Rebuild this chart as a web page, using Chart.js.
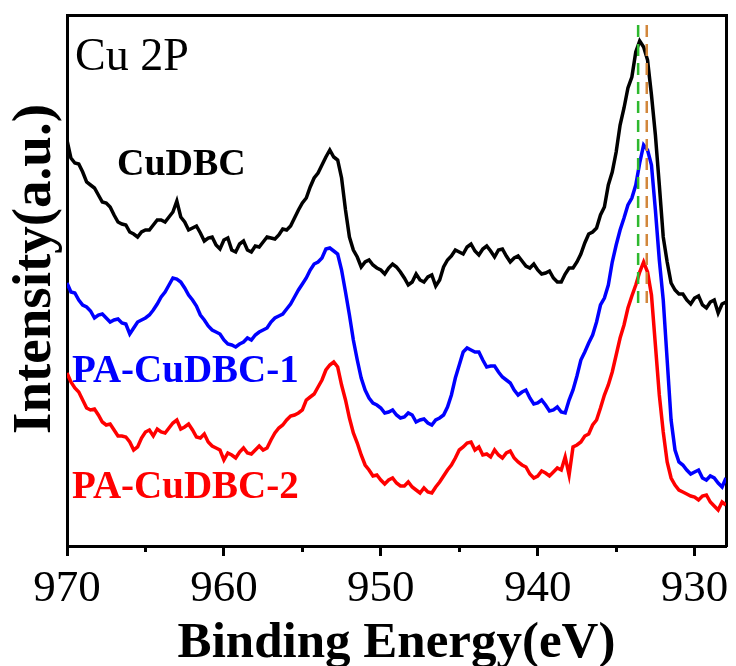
<!DOCTYPE html>
<html>
<head>
<meta charset="utf-8">
<title>Cu 2P XPS</title>
<script src="https://cdn.jsdelivr.net/npm/chart.js@4.4.1/dist/chart.umd.min.js"></script>
<style>
  body { margin: 0; background: #fff; }
  #wrap { width: 736px; height: 666px; }
</style>
</head>
<body>
<div id="wrap"><canvas id="xps" width="736" height="666"></canvas></div>
<script>
// binding energy (eV), 0.25 eV steps
const energies = [
  970, 969.75, 969.5, 969.25, 969, 968.75, 968.5, 968.25,
  968, 967.75, 967.5, 967.25, 967, 966.75, 966.5, 966.25,
  966, 965.75, 965.5, 965.25, 965, 964.75, 964.5, 964.25,
  964, 963.75, 963.5, 963.25, 963, 962.75, 962.5, 962.25,
  962, 961.75, 961.5, 961.25, 961, 960.75, 960.5, 960.25,
  960, 959.75, 959.5, 959.25, 959, 958.75, 958.5, 958.25,
  958, 957.75, 957.5, 957.25, 957, 956.75, 956.5, 956.25,
  956, 955.75, 955.5, 955.25, 955, 954.75, 954.5, 954.25,
  954, 953.75, 953.5, 953.25, 953, 952.75, 952.5, 952.25,
  952, 951.75, 951.5, 951.25, 951, 950.75, 950.5, 950.25,
  950, 949.75, 949.5, 949.25, 949, 948.75, 948.5, 948.25,
  948, 947.75, 947.5, 947.25, 947, 946.75, 946.5, 946.25,
  946, 945.75, 945.5, 945.25, 945, 944.75, 944.5, 944.25,
  944, 943.75, 943.5, 943.25, 943, 942.75, 942.5, 942.25,
  942, 941.75, 941.5, 941.25, 941, 940.75, 940.5, 940.25,
  940, 939.75, 939.5, 939.25, 939, 938.75, 938.5, 938.25,
  938, 937.75, 937.5, 937.25, 937, 936.75, 936.5, 936.25,
  936, 935.75, 935.5, 935.25, 935, 934.75, 934.5, 934.25,
  934, 933.75, 933.5, 933.25, 933, 932.75, 932.5, 932.25,
  932, 931.75, 931.5, 931.25, 931, 930.75, 930.5, 930.25,
  930, 929.75, 929.5, 929.25, 929, 928.75, 928.5, 928.25,
  928
];

// intensities (a.u., curves offset as in the figure)
const cuDBC = [
  410, 392, 387, 386, 378, 368, 365, 362,
  355, 348, 347, 343, 335, 328, 326, 325,
  318, 316, 313, 318, 320, 320, 325, 330,
  330, 328, 333, 338, 349, 333, 328, 320,
  322, 324, 317, 309, 312, 313, 305, 301,
  310, 312, 300, 298, 306, 309, 300, 298,
  304, 303, 308, 313, 312, 311, 315, 321,
  320, 324, 332, 340, 347, 352, 363, 372,
  377, 385, 393, 400, 393, 390, 372, 340,
  313, 300, 293, 283, 288, 290, 285, 282,
  280, 276, 282, 286, 283, 278, 272, 265,
  268, 276, 270, 268, 273, 275, 264, 270,
  283, 290, 294, 300, 298, 296, 303, 306,
  299, 295, 301, 304, 299, 293, 300, 301,
  294, 288, 292, 294, 289, 284, 282, 286,
  280, 276, 277, 279, 272, 268, 268, 276,
  282, 282, 288, 296, 307, 316, 318, 322,
  335, 343, 365, 378, 398, 425, 442, 462,
  473, 498, 509, 503, 490, 455, 415, 365,
  313, 288, 267, 260, 256, 256, 250, 246,
  252, 254, 245, 242, 248, 250, 237, 246,
  248
];

const paCuDBC1 = [
  267, 258, 257, 250, 245, 243, 239, 232,
  235, 236, 232, 228, 230, 231, 227, 226,
  216, 222, 228, 230, 232, 235, 240, 246,
  253, 258, 265, 272, 271, 268, 262, 255,
  250, 244, 235, 230, 224, 220, 218, 216,
  210, 206, 205, 203, 206, 208, 212, 210,
  215, 218, 220, 222, 228, 232, 234, 236,
  241, 246, 253, 260, 266, 272, 280, 286,
  288, 292, 301, 302, 299, 296, 280, 258,
  235, 210, 190, 172, 160, 152, 147, 145,
  142, 137, 138, 140, 135, 132, 133, 137,
  135, 128, 130, 131, 127, 125, 130, 132,
  135, 143, 155, 172, 185, 198, 202, 200,
  198, 198, 190, 183, 184, 184, 178, 173,
  170, 167, 160, 155, 158, 160, 152, 146,
  147, 150, 145, 139, 140, 143, 138, 137,
  150, 160, 174, 190, 198, 207, 215, 228,
  245, 252, 265, 288, 305, 320, 332, 345,
  352, 365, 387, 405, 400, 385, 340, 290,
  250, 190, 130, 100, 88, 85, 80, 76,
  78, 80, 72, 70, 74, 72, 67, 63,
  72
];

const paCuDBC2 = [
  177, 168, 162, 158, 150, 142, 140, 141,
  135, 128, 125, 126, 120, 114, 114, 113,
  108, 100, 103, 112, 118, 120, 114, 121,
  118, 117, 122, 127, 130, 121, 123, 126,
  120, 113, 112, 116, 108, 104, 102, 100,
  90, 97, 95, 92, 98, 102, 97, 96,
  100, 104, 100, 102, 110, 117, 122, 125,
  130, 134, 135, 137, 140, 150, 153, 156,
  163, 170, 180, 185, 188, 183, 165, 150,
  132, 117, 107, 95, 85, 80, 74, 75,
  70, 66, 70, 72, 67, 64, 64, 68,
  63, 60, 57, 62, 58, 57, 63, 68,
  74, 80, 85, 92, 100, 103, 107, 108,
  100, 103, 95, 96, 93, 100, 95, 92,
  97, 99, 92, 88, 85, 83, 76, 72,
  74, 79, 77, 74, 78, 82, 80, 93,
  75, 103, 105, 108, 114, 116, 125, 130,
  142, 155, 165, 178, 195, 212, 225, 242,
  254, 265, 278, 288, 278, 255, 205, 155,
  118, 88, 72, 65, 60, 58, 56, 54,
  53, 50, 54, 55, 48, 44, 40, 48,
  45
];

const xTicks = [930, 940, 950, 960, 970];
const xMinorTicks = [935, 945, 955, 965];

// dashed reference lines (peak positions) and their vertical extent
const refEnergies = [933.6, 933.05];
const refSpan = [247, 532];

const serif = "'Liberation Serif', 'Times New Roman', serif";

const toPoints = (ys) => energies.map((e, i) => ({ x: e, y: ys[i] }));
const refLine = (e) => [{ x: e, y: refSpan[0] }, { x: e, y: refSpan[1] }];

const extras = {
  id: "extras",
  afterDraw(chart) {
    const { ctx, chartArea, scales } = chart;
    ctx.save();

    // minor ticks on the energy axis
    ctx.strokeStyle = "#000";
    ctx.lineWidth = 3;
    xMinorTicks.forEach((v) => {
      const x = Math.round(scales.x.getPixelForValue(v)) + 0.5;
      ctx.beginPath();
      ctx.moveTo(x, chartArea.bottom);
      ctx.lineTo(x, chartArea.bottom + 6);
      ctx.stroke();
    });

    // sample labels
    ctx.textBaseline = "alphabetic";
    ctx.textAlign = "left";
    ctx.fillStyle = "#000";
    ctx.font = "46px " + serif;
    ctx.fillText("Cu 2P", chartArea.left + 8, 70);
    ctx.font = "bold 38px " + serif;
    ctx.fillText("CuDBC", chartArea.left + 50, 175);
    ctx.fillStyle = "#0000ff";
    ctx.font = "bold 39px " + serif;
    ctx.fillText("PA-CuDBC-1", chartArea.left + 5, 382);
    ctx.fillStyle = "#ff0000";
    ctx.fillText("PA-CuDBC-2", chartArea.left + 5, 498);

    // y axis title
    ctx.fillStyle = "#000";
    ctx.font = "bold 55px " + serif;
    ctx.textAlign = "center";
    ctx.translate(50, 269);
    ctx.rotate(-Math.PI / 2);
    ctx.fillText("Intensity(a.u.)", 0, 0);
    ctx.restore();
  },
};

const ctx = document.getElementById("xps").getContext("2d");
const chart = new Chart(ctx, {
  type: "line",
  data: {
    datasets: [
      {
        label: "ref1",
        data: refLine(refEnergies[0]),
        borderColor: "#2eb82e",
        borderWidth: 2.5,
        borderDash: [12, 7],
        pointRadius: 0,
        order: 0,
      },
      {
        label: "ref2",
        data: refLine(refEnergies[1]),
        borderColor: "#d2873c",
        borderWidth: 2.5,
        borderDash: [12, 7],
        pointRadius: 0,
        order: 0,
      },
      {
        label: "CuDBC",
        data: toPoints(cuDBC),
        borderColor: "#000000",
        borderWidth: 3.5,
        pointRadius: 0,
        order: 1,
      },
      {
        label: "PA-CuDBC-1",
        data: toPoints(paCuDBC1),
        borderColor: "#0000ff",
        borderWidth: 3.5,
        pointRadius: 0,
        order: 1,
      },
      {
        label: "PA-CuDBC-2",
        data: toPoints(paCuDBC2),
        borderColor: "#ff0000",
        borderWidth: 3.5,
        pointRadius: 0,
        order: 1,
      },
    ],
  },
  options: {
    responsive: false,
    animation: false,
    layout: { padding: { top: 15, right: 10, bottom: 0, left: 0 } },
    plugins: {
      legend: { display: false },
      tooltip: { enabled: false },
    },
    scales: {
      x: {
        type: "linear",
        reverse: true,
        min: 928,
        max: 970,
        afterBuildTicks: (axis) => {
          axis.ticks = xTicks.map((v) => ({ value: v }));
        },
        afterFit: (axis) => {
          axis.height = 120;
        },
        ticks: {
          color: "#000",
          font: { family: serif, size: 45 },
          padding: 6,
          maxRotation: 0,
          autoSkip: false,
        },
        grid: {
          display: true,
          drawOnChartArea: false,
          drawTicks: true,
          tickLength: 10,
          tickWidth: 3,
          tickColor: "#000",
        },
        border: { display: true, color: "#000", width: 3 },
        title: {
          display: true,
          text: "Binding Energy(eV)",
          color: "#000",
          font: { family: serif, size: 51, weight: "bold", lineHeight: 0.85 },
          padding: { top: 0, bottom: 0 },
        },
      },
      x2: {
        type: "linear",
        position: "top",
        reverse: true,
        min: 928,
        max: 970,
        ticks: { display: false },
        grid: { display: false, drawTicks: false },
        border: { display: true, color: "#000", width: 3 },
        afterFit: (axis) => {
          axis.height = 0;
        },
      },
      y: {
        min: 4,
        max: 535,
        ticks: { display: false },
        grid: { display: false, drawTicks: false },
        border: { display: true, color: "#000", width: 3 },
        afterFit: (axis) => {
          axis.width = 67;
        },
      },
      y2: {
        position: "right",
        min: 4,
        max: 535,
        ticks: { display: false },
        grid: { display: false, drawTicks: false },
        border: { display: true, color: "#000", width: 3 },
        afterFit: (axis) => {
          axis.width = 0;
        },
      },
    },
  },
  plugins: [extras],
});
</script>
</body>
</html>
